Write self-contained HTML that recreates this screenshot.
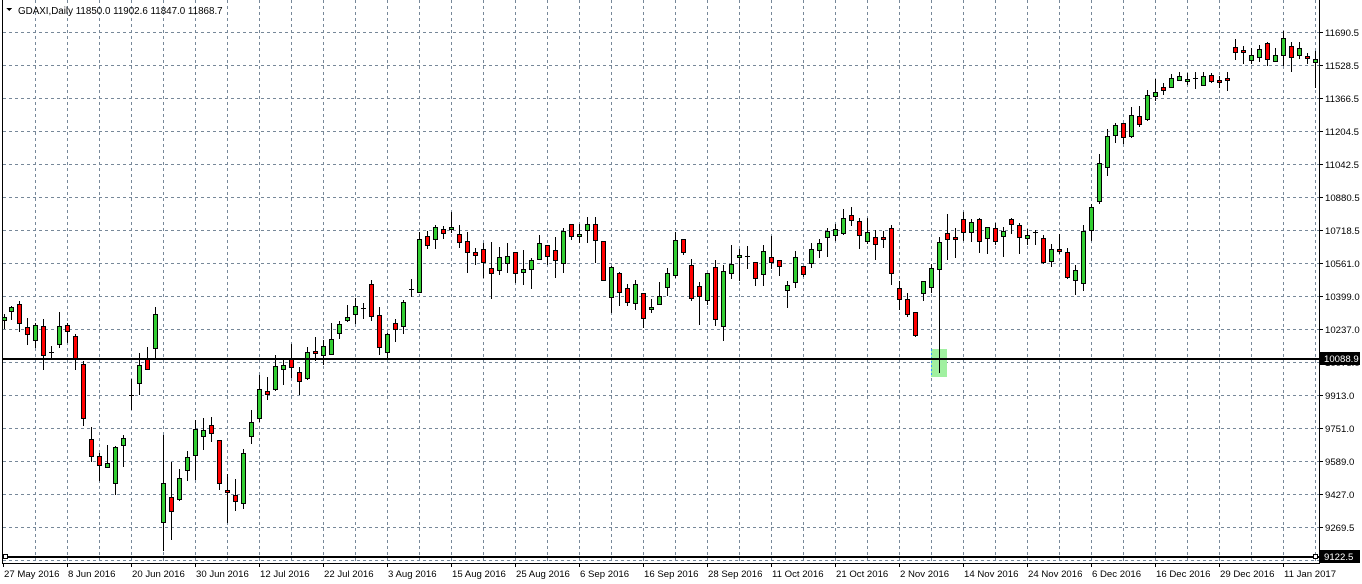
<!DOCTYPE html>
<html><head><meta charset="utf-8">
<style>
html,body{margin:0;padding:0;background:#fff;width:1362px;height:584px;overflow:hidden}
svg{display:block;font-family:"Liberation Sans",sans-serif}
</style></head><body>
<svg id="s" width="1362" height="584" xmlns="http://www.w3.org/2000/svg" shape-rendering="crispEdges">
<rect width="1362" height="584" fill="#fff"/>
<g id="grid" stroke="#778899" stroke-width="1" stroke-dasharray="3,3"></g>
<rect x="931" y="349" width="16" height="28" fill="#a0f0a0"/>
<line x1="931.5" y1="349" x2="931.5" y2="377" stroke="#3399ff" stroke-dasharray="2,2"/>
<g id="candles"></g>
<line x1="3" y1="359" x2="1319" y2="359" stroke="#000" stroke-width="2"/>
<line x1="3" y1="557" x2="1319" y2="557" stroke="#000" stroke-width="2"/>
<rect x="3.5" y="554.5" width="4" height="4" fill="#fff" stroke="#000"/>
<rect x="1313.5" y="554.5" width="4" height="4" fill="#fff" stroke="#000"/>
<line x1="2.5" y1="0" x2="2.5" y2="563" stroke="#000"/>
<line x1="1319.5" y1="0" x2="1319.5" y2="563" stroke="#000"/>
<line x1="2" y1="563.5" x2="1320" y2="563.5" stroke="#000"/>
<g id="ticks" stroke="#000"></g>
<polygon points="6,8 12,8 9,11" fill="#000"/>
<text x="18" y="14" font-size="9.8" fill="#000">GDAXI,Daily  11850.0 11902.6 11847.0 11868.7</text>
<g font-size="9.6" fill="#000">
<text x="1325" y="36">11690.5</text>
<text x="1325" y="69">11528.5</text>
<text x="1325" y="102">11366.5</text>
<text x="1325" y="135">11204.5</text>
<text x="1325" y="168">11042.5</text>
<text x="1325" y="201">10880.5</text>
<text x="1325" y="234">10718.5</text>
<text x="1325" y="267">10561.0</text>
<text x="1325" y="300">10399.0</text>
<text x="1325" y="333">10237.0</text>
<text x="1325" y="366">10075.0</text>
<text x="1325" y="399">9913.0</text>
<text x="1325" y="432">9751.0</text>
<text x="1325" y="465">9589.0</text>
<text x="1325" y="498">9427.0</text>
<text x="1325" y="531">9269.5</text>
</g>
<rect x="1320" y="352" width="40" height="13" fill="#000"/>
<text x="1324" y="362" font-size="9.6" fill="#fff">10088.9</text>
<rect x="1320" y="550" width="40" height="13" fill="#000"/>
<text x="1324" y="560" font-size="9.6" fill="#fff">9122.5</text>
<g font-size="9.6" fill="#000">
<text x="4" y="577">27 May 2016</text>
<text x="68" y="577">8 Jun 2016</text>
<text x="132" y="577">20 Jun 2016</text>
<text x="196" y="577">30 Jun 2016</text>
<text x="260" y="577">12 Jul 2016</text>
<text x="324" y="577">22 Jul 2016</text>
<text x="388" y="577">3 Aug 2016</text>
<text x="452" y="577">15 Aug 2016</text>
<text x="516" y="577">25 Aug 2016</text>
<text x="580" y="577">6 Sep 2016</text>
<text x="644" y="577">16 Sep 2016</text>
<text x="708" y="577">28 Sep 2016</text>
<text x="772" y="577">11 Oct 2016</text>
<text x="836" y="577">21 Oct 2016</text>
<text x="900" y="577">2 Nov 2016</text>
<text x="964" y="577">14 Nov 2016</text>
<text x="1028" y="577">24 Nov 2016</text>
<text x="1092" y="577">6 Dec 2016</text>
<text x="1156" y="577">16 Dec 2016</text>
<text x="1220" y="577">29 Dec 2016</text>
<text x="1284" y="577">11 Jan 2017</text>
</g>
</svg>
<script>
var NS="http://www.w3.org/2000/svg";
function el(p,t,a){var e=document.createElementNS(NS,t);for(var k in a)e.setAttribute(k,a[k]);p.appendChild(e);return e;}
var g=document.getElementById("grid");
for(var k=0;k<=40;k++){var x=35+32*k+.5;el(g,"line",{x1:x,y1:0,x2:x,y2:563});}
for(var k=0;k<=16;k++){var y=32+33*k+.5;el(g,"line",{x1:3,y1:y,x2:1319,y2:y});}
var t=document.getElementById("ticks");
for(var k=0;k<=16;k++){var y=32+33*k+.5;el(t,"line",{x1:1320,y1:y,x2:1323,y2:y});}
for(var k=0;k<=20;k++){var x=3+64*k+.5;el(t,"line",{x1:x,y1:563,x2:x,y2:567});}
var D=[
[4,314,317,320,328,'g'],[11,306,307,311,319,'g'],[19,301,304,323,331,'r'],[27,318,327,334,344,'r'],[35,323,325,340,347,'g'],
[43,319,326,355,369,'r'],[51,346,352,352,358,'d'],[59,312,326,344,347,'g'],[67,323,325,331,342,'r'],[75,334,336,358,369,'r'],
[83,361,364,418,425,'r'],[91,427,439,456,461,'r'],[99,453,456,465,480,'r'],[107,445,463,467,467,'g'],[115,446,447,483,494,'g'],
[123,435,438,445,466,'g'],[131,379,395,395,409,'d'],[139,353,365,383,394,'g'],[147,347,358,369,369,'r'],[155,307,314,348,358,'g'],
[163,435,483,522,550,'g'],[171,462,497,511,539,'r'],[179,469,478,499,500,'g'],[187,451,457,470,480,'g'],[195,420,429,455,479,'g'],
[203,418,430,436,449,'g'],[211,417,425,433,441,'r'],[219,440,440,483,489,'r'],[227,474,490,492,522,'r'],[235,479,495,501,510,'r'],
[243,449,453,503,508,'g'],[251,410,422,436,443,'g'],[259,375,389,418,421,'g'],[267,377,391,394,399,'r'],[275,355,366,389,390,'g'],
[283,358,365,369,384,'g'],[291,344,359,367,377,'r'],[299,367,372,381,394,'r'],[307,347,352,378,379,'g'],[315,337,351,353,360,'r'],
[323,340,346,355,364,'g'],[331,323,339,354,354,'g'],[339,321,324,333,338,'g'],[347,305,317,320,321,'g'],[355,298,306,314,323,'g'],
[363,303,308,308,318,'d'],[371,280,284,316,320,'r'],[379,307,315,347,354,'r'],[387,333,334,352,358,'g'],[395,319,323,329,341,'r'],
[403,300,302,326,333,'g'],[411,279,289,289,296,'d'],[419,232,239,292,292,'g'],[427,231,236,245,248,'r'],[435,225,227,239,248,'g'],
[443,226,229,233,238,'r'],[451,212,227,229,232,'g'],[459,225,234,242,247,'r'],[467,232,241,252,272,'r'],[475,248,252,255,264,'r'],
[483,243,249,262,277,'r'],[491,242,268,273,298,'r'],[499,247,257,270,274,'g'],[507,243,256,263,272,'g'],[515,252,252,273,282,'r'],
[523,250,269,272,284,'g'],[531,258,260,269,288,'g'],[539,235,243,259,259,'g'],[547,245,245,256,264,'r'],[555,237,250,260,277,'r'],
[563,228,231,263,272,'g'],[571,224,224,236,239,'r'],[579,224,234,236,242,'g'],[587,217,224,230,242,'g'],[595,217,224,240,262,'r'],
[603,241,241,280,280,'r'],[611,266,267,297,312,'g'],[619,272,273,292,305,'r'],[627,284,288,302,305,'r'],[635,280,284,303,309,'g'],
[643,293,293,318,327,'r'],[651,299,307,309,312,'g'],[659,282,296,304,304,'g'],[667,268,273,287,295,'g'],[675,232,240,275,277,'g'],
[683,239,239,252,254,'r'],[691,259,265,298,300,'r'],[699,282,286,296,324,'r'],[707,273,273,300,304,'g'],[715,260,267,319,325,'r'],
[723,265,271,326,340,'g'],[731,245,264,273,278,'g'],[739,249,255,257,280,'g'],[747,246,256,256,268,'d'],[755,262,262,278,285,'r'],
[763,245,251,274,285,'g'],[771,236,257,262,268,'r'],[779,260,260,266,275,'r'],[787,281,285,290,307,'g'],[795,251,257,282,287,'g'],
[803,266,266,274,276,'r'],[811,243,249,263,267,'g'],[819,239,243,250,257,'g'],[827,228,231,237,256,'g'],[835,224,229,235,240,'g'],
[843,209,218,233,234,'g'],[851,207,215,220,225,'r'],[859,218,221,235,248,'r'],[867,218,232,241,243,'g'],[875,230,237,244,259,'r'],
[883,231,237,239,247,'r'],[891,225,228,273,284,'r'],[899,281,288,299,309,'r'],[907,293,299,314,316,'r'],[915,312,312,335,336,'r'],
[923,281,281,293,300,'g'],[931,264,268,287,292,'g'],[939,237,242,269,372,'g'],[947,214,233,239,259,'r'],[955,228,237,239,257,'r'],
[963,212,219,232,240,'r'],[971,219,222,232,241,'g'],[979,218,219,241,252,'r'],[987,227,227,238,253,'g'],[995,223,228,241,244,'r'],
[1003,227,231,236,256,'g'],[1011,218,219,224,233,'r'],[1019,223,225,237,253,'r'],[1027,229,235,238,244,'g'],[1035,230,232,232,244,'d'],
[1043,235,238,262,263,'r'],[1051,244,249,261,266,'g'],[1059,234,249,251,253,'r'],[1067,248,252,277,278,'r'],[1075,265,270,280,294,'g'],
[1083,225,231,283,290,'g'],[1091,204,207,230,240,'g'],[1099,154,163,201,203,'g'],[1107,129,136,167,175,'g'],[1115,123,125,135,142,'g'],
[1123,123,123,137,143,'r'],[1131,107,115,136,137,'g'],[1139,106,116,124,126,'r'],[1147,90,95,119,120,'g'],[1155,79,92,96,100,'g'],
[1163,83,87,90,94,'r'],[1171,74,78,87,87,'g'],[1179,72,76,80,80,'g'],[1187,73,79,81,84,'g'],[1195,72,78,78,88,'d'],
[1203,72,76,85,85,'g'],[1211,73,75,81,82,'r'],[1219,76,80,82,87,'r'],[1227,72,78,80,90,'r'],[1235,39,47,52,59,'r'],
[1243,46,50,52,63,'r'],[1251,48,55,60,63,'g'],[1259,45,49,57,61,'g'],[1267,42,43,59,65,'r'],[1275,48,55,61,61,'g'],
[1283,31,38,55,65,'g'],[1291,42,46,57,71,'r'],[1299,42,48,55,58,'g'],[1307,53,56,58,63,'r'],[1315,51,59,62,87,'g']
];
var c=document.getElementById("candles");
D.forEach(function(d){
 var x=d[0];
 el(c,"line",{x1:x+.5,y1:d[1],x2:x+.5,y2:d[4]+1,stroke:"#000"});
 if(d[5]=='d'){el(c,"rect",{x:x-2,y:d[2],width:5,height:1,fill:"#000"});}
 else{var h=Math.max(d[3]-d[2],2);
 el(c,"rect",{x:x-1.5,y:d[2]+.5,width:4,height:h,fill:d[5]=='g'?"#32cd32":"#ff0000",stroke:"#000"});}
});
</script>
</body></html>
